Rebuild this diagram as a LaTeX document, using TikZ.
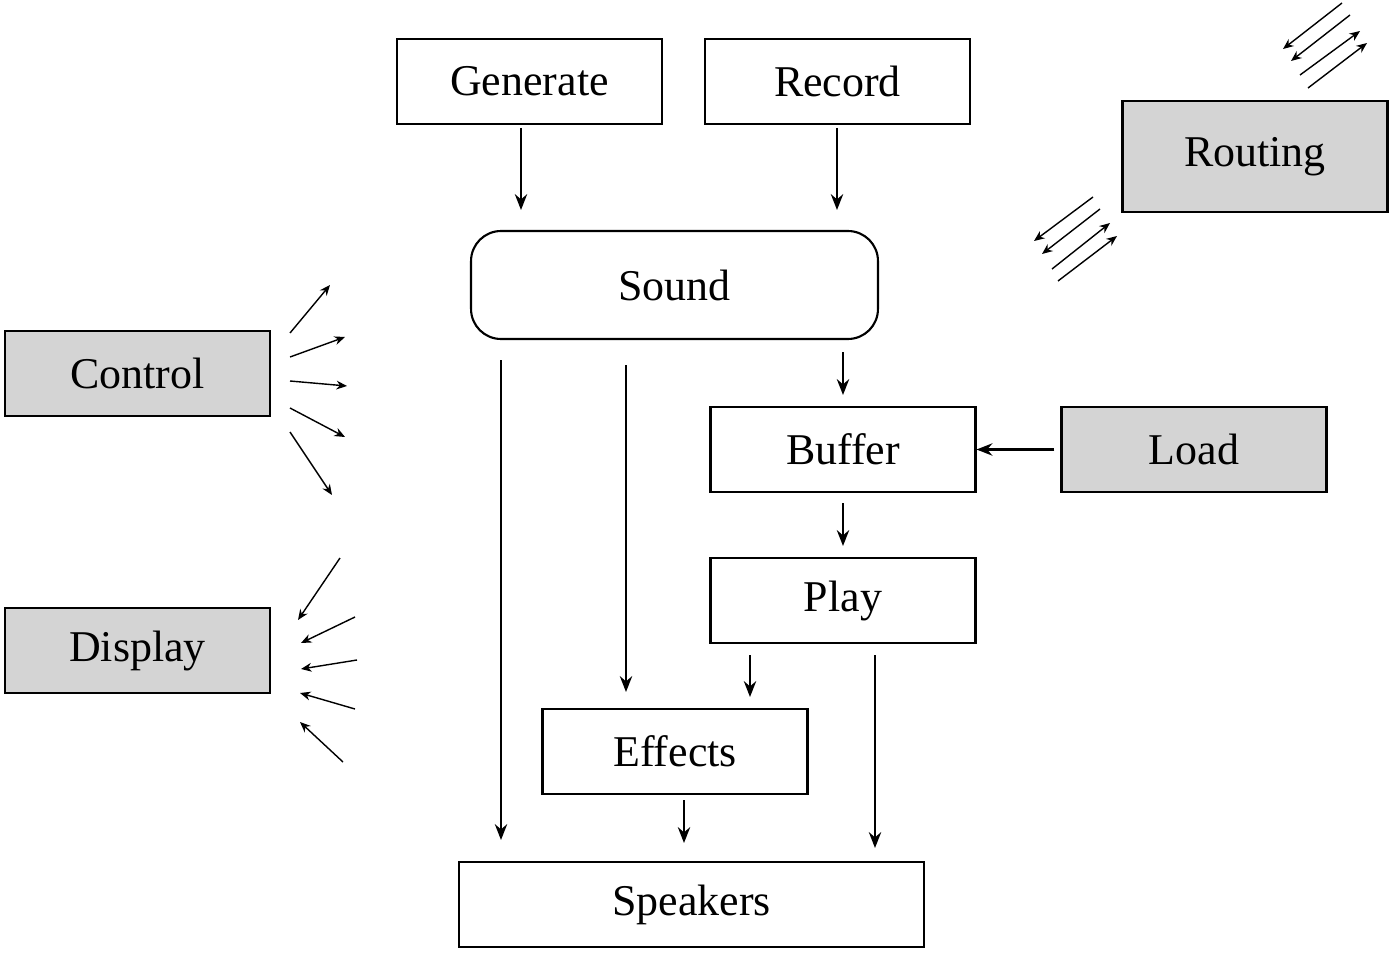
\documentclass[tikz,border=0pt]{standalone}
\usepackage{fontspec}
\setmainfont{Liberation Serif}
\usetikzlibrary{arrows.meta}

\begin{document}
\begin{tikzpicture}[x=0.02cm, y=-0.02cm,
    box/.style = {draw, line width=1.2pt, minimum width=5.3cm, minimum height=1.7cm,
                  font=\fontsize{25}{30}\selectfont},
    grey/.style = {box, fill=black!17},
    flow/.style = {-{Stealth[length=9pt, width=7pt]}, line width=1.3pt},
    thin/.style = {-{Stealth[length=6pt, width=5pt]}, line width=0.8pt}]
   \useasboundingbox (0,0) rectangle (1393,953);
   \node[box] (gen) at (529.5,81.5) {Generate};
   \node[box] (rec) at (837.5,81.5) {Record};
   \node[grey, minimum height=2.22cm] (route) at (1255,156.5) {Routing};
   \node[box, rounded corners=0.6cm, minimum width=8.14cm, minimum height=2.16cm] (snd) at (674.5,285) {Sound};
   \node[grey] (ctrl) at (137.5,373.5) {Control};
   \node[box] (buf) at (843,449.5) {Buffer};
   \node[grey] (load) at (1194,449.5) {Load};
   \node[box] (play) at (843,600.5) {Play};
   \node[grey] (disp) at (137.5,650.5) {Display};
   \node[box] (eff) at (675,751.5) {Effects};
   \node[box, minimum width=9.3cm] (spk) at (691.5,904.5) {Speakers};
   % main flow
   \draw[flow] (521,128) -- (521,210);
   \draw[flow] (837,128) -- (837,210);
   \draw[flow] (843,352) -- (843,395);
   \draw[flow] (load.west) ++(-6,0) -- (buf.east);
   \draw[flow] (843,503) -- (843,546);
   \draw[flow] (750,655) -- (750,697);
   \draw[flow] (626,365) -- (626,692);
   \draw[flow] (501,360) -- (501,840);
   \draw[flow] (684,800) -- (684,843);
   \draw[flow] (875,655) -- (875,848);
   % control and display
   \foreach \a/\b/\c/\d in {290/333/330/285, 290/357/345/337, 290/381/347/386,
                            290/408/345/437, 290/432/332/495}
      \draw[thin] (\a,\b) -- (\c,\d);
   \foreach \a/\b/\c/\d in {340/558/298/620, 355/617/301/643, 357/660/301/669,
                            355/709/300/693, 343/762/300/722}
      \draw[thin] (\a,\b) -- (\c,\d);
   % routing
   \foreach \a/\b/\c/\d in {1342/3/1283/49, 1350/15/1291/61, 1300/75/1360/31, 1308/88/1367/43,
                            1093/197/1034/241, 1100/209/1042/254, 1052/269/1110/223, 1058/281/1117/236}
      \draw[thin] (\a,\b) -- (\c,\d);
\end{tikzpicture}
\end{document}
